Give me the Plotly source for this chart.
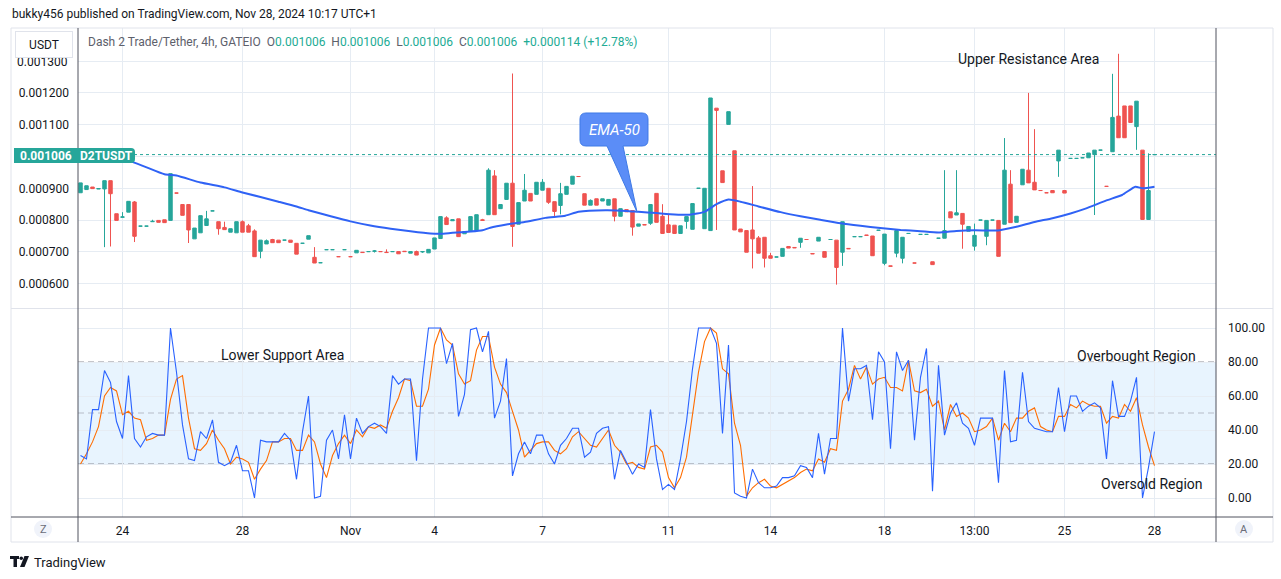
import plotly.graph_objects as go

W, H = 1281, 579

# ---------------- data ----------------
bar_index = list(range(180))
opens = [886,896,904,898,898,924,820,809,825,857,
         781,781,795,799,801,799,885,849,849,741,
         760,783,829,795,777,762,760,795,782,766,
         702,725,739,737,737,737,727,727,740,683,
         666,707,707,685,707,685,697,699,701,702,
         701,699,701,701,702,696,701,700,697,709,
         742,807,798,804,757,764,769,801,817,939,
         836,865,916,787,860,884,881,894,900,858,
         846,881,913,937,883,847,867,860,847,867,
         812,833,830,781,786,790,884,812,785,784,
         758,796,771,900,773,767,1152,955,1101,1018,
         772,767,769,744,746,688,684,686,717,714,
         730,739,695,734,701,739,737,699,711,748,
         748,753,750,768,664,656,696,680,758,665,
         755,755,669,743,743,826,816,821,765,718,
         800,749,800,799,787,913,793,911,957,919,
         893,886,893,986,893,994,994,996,996,1006,
         1020,906,1015,1127,1159,1159,1094,1020,802,1006]
highs = [917,908,904,899,924,924,820,825,859,860,
         781,781,801,799,801,946,885,849,849,775,
         814,829,829,795,795,773,795,799,788,771,
         737,739,741,737,737,737,727,727,751,715,
         666,707,707,685,707,685,705,699,701,706,
         701,708,701,701,702,701,704,701,708,744,
         811,812,801,804,764,811,817,804,963,957,
         849,916,1261,855,945,884,919,929,900,858,
         917,906,938,937,883,865,867,867,865,867,
         836,833,830,788,786,849,884,850,816,784,
         782,811,852,900,900,1184,1152,955,1141,1018,
         772,767,907,750,746,697,684,711,717,714,
         743,739,695,746,701,739,737,795,711,748,
         748,753,750,768,756,656,767,746,758,665,
         755,755,669,743,957,826,957,821,780,789,
         800,799,800,799,1058,957,812,960,1200,1086,
         893,886,893,1020,893,994,994,996,1011,1020,
         1020,906,1260,1323,1159,1159,1174,1020,1010,1006]
lows = [886,896,899,898,715,717,799,808,825,731,
        781,781,795,793,792,799,885,815,728,741,
        760,783,829,754,770,762,760,762,762,685,
        680,725,729,729,737,730,693,727,740,665,
        666,707,707,685,707,685,697,698,701,698,
        701,698,701,694,701,696,690,697,697,709,
        742,786,798,748,757,764,769,799,817,817,
        836,865,716,787,860,860,881,894,851,812,
        818,881,913,937,847,847,847,860,847,796,
        812,826,751,781,785,785,793,758,761,758,
        758,773,771,900,773,767,769,918,1101,769,
        763,699,648,696,651,680,684,686,712,713,
        713,739,694,734,683,739,597,656,710,748,
        748,752,688,768,658,655,683,664,758,665,
        755,755,660,743,743,807,816,710,765,704,
        800,721,800,686,787,792,793,911,917,895,
        893,886,886,936,885,994,994,996,996,816,
        1020,906,1015,1059,1059,1107,1021,802,802,1006]
closes = [917,908,899,899,924,883,799,810,859,749,
          781,781,796,793,792,946,885,815,769,775,
          814,804,829,773,770,773,795,762,762,685,
          737,735,729,729,737,730,693,727,751,665,
          666,707,707,685,707,685,705,698,701,703,
          701,698,701,694,701,701,690,701,708,744,
          811,786,801,748,764,811,817,799,957,817,
          849,916,780,855,894,860,919,919,856,827,
          883,906,938,937,847,862,847,867,865,812,
          836,826,778,788,785,849,793,758,761,758,
          782,811,852,900,900,1184,1145,918,1141,769,
          763,699,741,696,680,680,684,711,712,713,
          743,739,694,746,683,739,651,795,710,748,
          748,752,688,768,756,655,767,746,758,665,
          755,755,660,743,767,807,823,787,780,752,
          800,799,800,686,957,792,812,960,917,895,
          893,886,886,1020,885,994,994,996,1011,1020,
          1020,906,1123,1059,1059,1107,1174,802,893,1006]

ema_x = [0,4,8.5,14,16,20,24,27,33,36,38,41.7,45,48.3,51.7,55,58.3,60,62,65,
         67,68.3,71,74,77.5,80.8,83,87.5,91,93,96,99,101.5,104,106,108,110,113,116.7,120,
         123.3,126.7,130,133.3,136.7,140,143,146,149,152.5,153.6,156,159,162,165,167.5,171,173.6,175.8,177,179]
ema_y = [1012,998,984,944,940,918,903,887,858,843,831,812,796,783,773,765,758,757,760,764,
         768,776,786,794,807,814,826,831,829,826,822,818,817,826,850,865,858,843,825,812,
         801,790,782,775,769,765,761,766,768,767,770,779,794,806,821,836,862,879,905,900,905]

stoch_k = [25,23,52,52,75,68,45,35,72,35,
           30,36,38,37,37,100,74,43,23,22,
           39,35,46,21,19,21,31,16,16,0,
           34,33,33,33,38,34,11,39,60,0,
           1,34,40,23,49,23,47,38,42,44,
           42,38,72,67,70,70,22,70,100,100,
           100,79,91,48,61,99,100,86,98,47,
           57,82,13,26,33,26,37,37,26,20,
           31,35,41,41,24,27,38,41,42,11,
           28,21,14,20,18,52,23,5,8,5,
           23,45,76,100,100,100,91,38,90,3,
           1,0,17,9,6,6,7,12,12,13,
           19,18,12,38,14,35,35,100,57,76,
           76,78,46,86,80,29,86,75,81,34,
           71,88,4,78,37,50,56,44,41,31,
           47,47,47,9,75,33,34,74,45,41,
           40,39,39,65,39,60,60,51,54,56,
           53,23,69,48,48,57,71,0,18,39]
stoch_d = [20,26,33,42,60,65,63,49,51,47,
           46,34,35,37,37,58,70,72,47,29,
           28,32,40,34,29,20,24,23,21,11,
           17,22,33,33,35,35,28,28,37,33,
           20,12,25,32,37,32,40,36,42,41,
           43,41,51,59,70,69,54,54,64,90,
           100,93,90,73,67,69,87,95,95,77,
           67,62,51,40,24,28,32,33,33,28,
           26,29,36,39,35,31,30,35,40,31,
           27,20,21,18,17,30,31,27,12,6,
           12,24,48,74,92,100,97,76,73,44,
           31,1,6,9,11,7,6,8,10,12,
           15,17,16,23,21,29,28,57,64,78,
           70,77,67,70,71,65,65,63,81,63,
           62,64,54,57,40,55,48,50,47,39,
           40,42,47,34,44,39,47,47,51,53,
           42,40,39,48,48,55,53,57,55,54,
           54,44,48,47,55,51,59,43,30,19]

price_ticks = [600, 700, 800, 900, 1000, 1100, 1200, 1300]
price_tick_text = ["0.000600", "0.000700", "0.000800", "0.000900", "", "0.001100", "0.001200", ""]
top_price_label = "0.001300"
stoch_ticks = [0, 20, 40, 60, 80, 100]
stoch_tick_text = ["0.00", "20.00", "40.00", "60.00", "80.00", "100.00"]
date_ticks = [7, 27, 45, 59, 77, 98, 115, 134, 149, 164, 179]
date_text = ["24", "28", "Nov", "4", "7", "11", "14", "18", "13:00", "25", "28"]
last_price = 1006

# ---------------- style ----------------
UP, DN = "#26a69a", "#ef5350"
GRID = "#e6ecf3"
TXT = "#131722"
FONT = "Roboto"

def PX(x): return x / W
def PY(y): return 1 - y / H
def P(x, y): return f"{x / W:.5f},{1 - y / H:.5f}"

XL, XR = 78, 1216
P_TOP, P_BOT = 28, 308
S_TOP, S_BOT = 309, 517
X0 = 80.5   # pixel centre of bar 0 (half-pixel for crisp 1px wicks)
xr = [(XL - X0) / 6, (XR - X0) / 6]
pr = [900 + (188.3 - P_BOT) / 0.318, 900 + (188.3 - P_TOP) / 0.318]
sr = [(498 - S_BOT) / 1.7, (498 - S_TOP) / 1.7]

fig = go.Figure()
fig.add_trace(go.Candlestick(
    x=bar_index, open=opens, high=highs, low=lows, close=closes,
    increasing=dict(line=dict(color=UP, width=1), fillcolor=UP),
    decreasing=dict(line=dict(color=DN, width=1), fillcolor=DN),
    whiskerwidth=0, xaxis="x", yaxis="y", showlegend=False, hoverinfo="skip"))
fig.add_trace(go.Scatter(x=ema_x, y=ema_y, mode="lines",
                         line=dict(color="#2f62f5", width=2, shape="spline", smoothing=0.5),
                         xaxis="x", yaxis="y", showlegend=False, hoverinfo="skip"))
fig.add_trace(go.Scatter(x=bar_index, y=stoch_d, mode="lines",
                         line=dict(color="#ff6d00", width=1.1),
                         xaxis="x2", yaxis="y2", showlegend=False, hoverinfo="skip"))
fig.add_trace(go.Scatter(x=bar_index, y=stoch_k, mode="lines",
                         line=dict(color="#2962ff", width=1.1),
                         xaxis="x2", yaxis="y2", showlegend=False, hoverinfo="skip"))

shapes = []
ann = []

def rect_px(x0, y0, x1, y1, fill=None, line=None, lw=1, layer="above"):
    shapes.append(dict(type="rect", xref="paper", yref="paper",
                       x0=PX(x0), x1=PX(x1), y0=PY(y1), y1=PY(y0),
                       fillcolor=fill if fill else "rgba(0,0,0,0)",
                       line=dict(color=line if line else "rgba(0,0,0,0)", width=lw if line else 0),
                       layer=layer))

def line_px(x0, y0, x1, y1, color, width=1, dash="solid"):
    shapes.append(dict(type="line", xref="paper", yref="paper",
                       x0=PX(x0), x1=PX(x1), y0=PY(y0), y1=PY(y1),
                       line=dict(color=color, width=width, dash=dash)))

def text_px(x, y, s, size=12, color=TXT, xanchor="center", family=FONT, **kw):
    ann.append(dict(x=PX(x), y=PY(y), xref="paper", yref="paper", text=s, showarrow=False,
                    xanchor=xanchor, yanchor="middle",
                    font=dict(size=size, color=color, family=family), **kw))

# stochastic band and levels
shapes.append(dict(type="rect", xref="x2 domain", yref="y2", x0=0, x1=1, y0=20, y1=80,
                   fillcolor="rgba(33,150,243,0.10)", line=dict(width=0), layer="below"))
for lvl, col in [(80, "#8a8d97"), (20, "#8a8d97"), (50, "rgba(120,123,134,0.45)")]:
    shapes.append(dict(type="line", xref="x2 domain", yref="y2", x0=0, x1=1, y0=lvl, y1=lvl,
                       line=dict(color=col, width=1, dash="6px,4px"), layer="below"))

# last price dotted line
shapes.append(dict(type="line", xref="paper", yref="y", x0=PX(134), x1=PX(XR), y0=last_price, y1=last_price,
                   line=dict(color=UP, width=1, dash="dot")))

# frame
rect_px(11, 28, 1273, 542, line="#e0e3eb")
line_px(11, 308.5, 1273, 308.5, "#e0e3eb")
line_px(11, 517, 1273, 517, "#50535e")
line_px(XL, 28, XL, 542, "#50535e")
line_px(XR, 28, XR, 542, "#50535e")

# price label
rect_px(14, 148, 77, 163, fill=UP)
shapes.append(dict(type="path", xref="paper", yref="paper",
                   path=f"M {P(77,148)} L {P(131,148)} Q {P(135,148)} {P(135,152)} L {P(135,159)} Q {P(135,163)} {P(131,163)} L {P(77,163)} Z",
                   fillcolor=UP, line=dict(width=0)))
text_px(45.5, 156, "<b>0.001006</b>", size=12, color="white")
text_px(106, 156, "<b>D2TUSDT</b>", size=12, color="white")

# EMA-50 callout
shapes.append(dict(type="path", xref="paper", yref="paper",
                   path=(f"M {P(586,113)} L {P(642,113)} Q {P(648,113)} {P(648,119)} L {P(648,140)} "
                         f"Q {P(648,146)} {P(642,146)} L {P(623,146)} L {P(637,212)} L {P(607,146)} "
                         f"L {P(586,146)} Q {P(580,146)} {P(580,140)} L {P(580,119)} Q {P(580,113)} {P(586,113)} Z"),
                   fillcolor="#5b8df7", line=dict(color="#3f7ae6", width=1)))
text_px(614, 129.5, "<i>EMA-50</i>", size=15, color="white")

# partially hidden top price label, then USDT button drawn over it
text_px(70, 62, top_price_label, size=12, xanchor="right")
ann.append(dict(x=PX(44), y=PY(44.5), xref="paper", yref="paper", text="USDT", showarrow=False,
                xanchor="center", yanchor="middle", width=52, height=21,
                bgcolor="white", bordercolor="#e0e3eb", borderwidth=1, borderpad=2,
                font=dict(size=12, color=TXT, family=FONT)))

# header texts
text_px(10, 14, "bukky456 published on TradingView.com, Nov 28, 2024 10:17 UTC+1", size=12, xanchor="left")
g = "#5d606b"
t = "#22ab94"
legend = (f"<span style='color:{g}'>Dash 2 Trade/Tether, 4h, GATEIO  O</span><span style='color:{t}'>0.001006</span>"
          f"<span style='color:{g}'>  H</span><span style='color:{t}'>0.001006</span>"
          f"<span style='color:{g}'>  L</span><span style='color:{t}'>0.001006</span>"
          f"<span style='color:{g}'>  C</span><span style='color:{t}'>0.001006</span>"
          f"<span style='color:{t}'>  +0.000114 (+12.78%)</span>")
text_px(86, 42, legend, size=12, xanchor="left")

# chart notes
text_px(1028, 59, "Upper Resistance Area", size=14)
text_px(282, 355, "Lower Support Area", size=14)
text_px(1136, 356, "Overbought Region", size=14)
text_px(1152, 484, "Oversold Region", size=14)

# Z / A buttons
for cx, s in [(43, "Z"), (1244, "A")]:
    shapes.append(dict(type="circle", xref="paper", yref="paper",
                       x0=PX(cx - 9), x1=PX(cx + 9), y0=PY(538), y1=PY(520),
                       fillcolor="#f0f3fa", line=dict(width=0)))
    text_px(cx, 529.5, s, size=11, color="#6a6d78")

# TradingView logo
rect_px(10, 556, 19, 559, fill="#131722")
rect_px(13.5, 556, 17, 567, fill="#131722")
shapes.append(dict(type="circle", xref="paper", yref="paper", x0=PX(19.5), x1=PX(23), y0=PY(560), y1=PY(556.5),
                   fillcolor="#131722", line=dict(width=0)))
shapes.append(dict(type="path", xref="paper", yref="paper",
                   path=f"M {P(24.5,556)} L {P(29,556)} L {P(24.5,567)} L {P(20,567)} Z",
                   fillcolor="#131722", line=dict(width=0)))
text_px(32, 562, "TradingView", size=13, xanchor="left")

axis_common = dict(showline=False, zeroline=False, ticks="", gridcolor=GRID, gridwidth=1)
fig.update_layout(
    width=W, height=H, autosize=False,
    margin=dict(l=0, r=0, t=0, b=0),
    paper_bgcolor="white", plot_bgcolor="white",
    showlegend=False, boxgap=0.18, hovermode=False,
    font=dict(family=FONT, size=12, color=TXT),
    xaxis=dict(domain=[PX(XL), PX(XR)], range=xr, anchor="y", showticklabels=False,
               tickvals=date_ticks, showgrid=True, rangeslider=dict(visible=False), **axis_common),
    xaxis2=dict(domain=[PX(XL), PX(XR)], range=xr, anchor="y2", matches="x",
                tickvals=date_ticks, ticktext=date_text, showgrid=True, ticklabelstandoff=5,
                tickfont=dict(size=12, color=TXT, family=FONT), **axis_common),
    yaxis=dict(domain=[PY(P_BOT), PY(P_TOP)], range=pr, anchor="x", side="left",
               tickvals=price_ticks, ticktext=price_tick_text, showgrid=True, ticklabelstandoff=8,
               tickfont=dict(size=12, color=TXT, family=FONT), **axis_common),
    yaxis2=dict(domain=[PY(S_BOT), PY(S_TOP)], range=sr, anchor="x2", side="right",
                tickvals=stoch_ticks, ticktext=stoch_tick_text, showgrid=True, ticklabelstandoff=11,
                tickfont=dict(size=12, color=TXT, family=FONT), **axis_common),
    shapes=shapes, annotations=ann,
)

fig.write_html("out.html")
